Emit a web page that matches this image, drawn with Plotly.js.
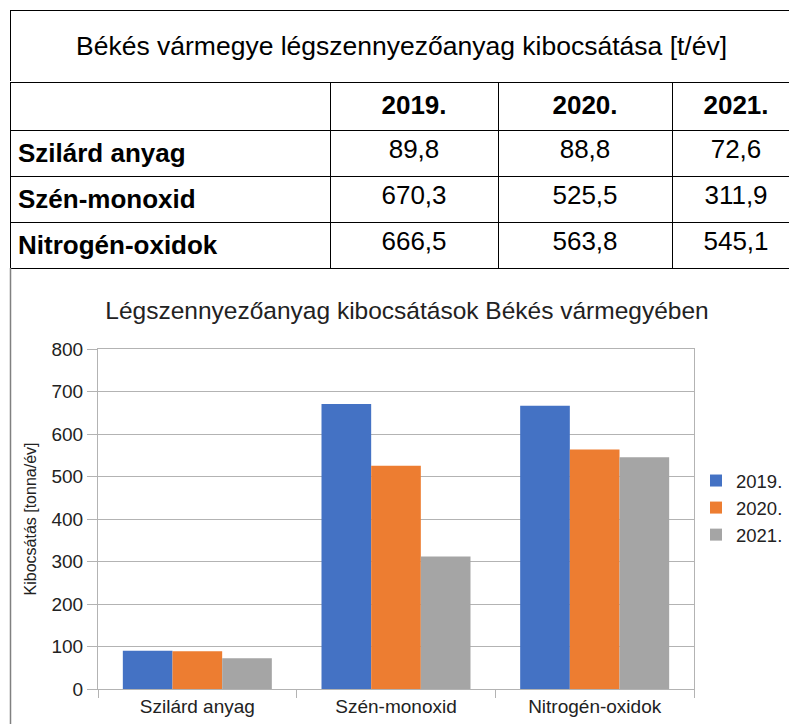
<!DOCTYPE html>
<html>
<head>
<meta charset="utf-8">
<script src="https://cdn.plot.ly/plotly-3.0.1.min.js"></script>
<style>html,body{margin:0;padding:0;background:#fff;overflow:hidden;}#chart{width:800px;height:724px;}</style>
</head>
<body>
<div id="chart"></div>
<script>
var tableTitle = 'Békés vármegye légszennyezőanyag kibocsátása [t/év]';
var chartTitle = 'Légszennyezőanyag kibocsátások Békés vármegyében';
var yAxisTitle = 'Kibocsátás [tonna/év]';
var categories = ['Szilárd anyag', 'Szén-monoxid', 'Nitrogén-oxidok'];
var years = ['2019.', '2020.', '2021.'];
var v2019 = [89.8, 670.3, 666.5];
var v2020 = [88.8, 525.5, 563.8];
var v2021 = [72.6, 311.9, 545.1];
var yTicks = [0, 100, 200, 300, 400, 500, 600, 700, 800];

// figure is slightly wider than the 789px window so the table's right border falls outside it
var W = 800, H = 724;
function px(x) { return x / W; }
function py(y) { return 1 - y / H; }
function fmt(v) { return v.toFixed(1).replace('.', ','); }

var FONT = 'Liberation Sans, Arial, sans-serif';
var colors = ['#4472C4', '#ED7D31', '#A5A5A5'];
var series = [v2019, v2020, v2021];

var traces = [];

// table title row (merged cell)
traces.push({
  type: 'table',
  domain: {x: [px(10), 1], y: [py(82), py(10)]},
  columnwidth: [1],
  header: {
    values: [''],
    height: 72,
    line: {color: '#000', width: 1},
    fill: {color: '#fff'},
    font: {family: FONT, size: 26, color: '#000'}
  },
  cells: {values: [[]], height: 0, line: {color: '#000', width: 1}, fill: {color: '#fff'}},
  hoverinfo: 'skip'
});

// data table
traces.push({
  type: 'table',
  domain: {x: [px(10), 1], y: [py(269), py(82)]},
  columnwidth: [320, 168, 174, 128],
  header: {
    values: [''].concat(years).map(function (s) { return '<b>' + s + '</b>'; }),
    height: 48,
    align: 'center',
    line: {color: '#000', width: 1},
    fill: {color: '#fff'},
    font: {family: FONT, size: 26, color: '#000'}
  },
  cells: {
    values: [categories.map(function (s) { return '<b>' + s + '</b>'; }),
             categories.map(function (c, i) { return fmt(v2019[i]); }),
             categories.map(function (c, i) { return fmt(v2020[i]); }),
             categories.map(function (c, i) { return fmt(v2021[i]); })],
    height: 46,
    align: ['left', 'center', 'center', 'center'],
    line: {color: '#000', width: 1},
    fill: {color: '#fff'},
    font: {family: FONT, size: 26, color: '#000'}
  }
});

for (var s = 0; s < 3; s++) {
  traces.push({
    type: 'bar',
    name: years[s],
    x: categories,
    y: series[s],
    marker: {color: colors[s]},
    legendgroup: 'g' + s,
    hoverinfo: 'x+y+name'
  });
}

var layout = {
  width: W, height: H,
  margin: {l: 0, r: 0, t: 0, b: 0},
  paper_bgcolor: '#fff',
  plot_bgcolor: '#fff',
  font: {family: FONT, color: '#222'},
  title: {
    text: chartTitle,
    font: {family: FONT, size: 24.5, color: '#222'},
    x: px(407), xanchor: 'center', xref: 'paper',
    y: py(310), yanchor: 'middle', yref: 'paper'
  },
  annotations: [{
    text: tableTitle,
    xref: 'paper', yref: 'paper',
    x: px(402), y: py(46), xanchor: 'center', yanchor: 'middle',
    showarrow: false,
    font: {family: FONT, size: 26.5, color: '#000'}
  }],
  barmode: 'group',
  bargap: 0.25,
  bargroupgap: 0,
  xaxis: {
    domain: [px(98), px(694)],
    type: 'category',
    tickson: 'boundaries',
    ticks: 'outside',
    ticklen: 8,
    tickcolor: '#b3b3b3',
    showline: true,
    linecolor: '#b3b3b3',
    mirror: true,
    showgrid: false,
    tickfont: {family: FONT, size: 19, color: '#222'},
    fixedrange: true
  },
  yaxis: {
    domain: [py(689), py(349)],
    range: [0, 800],
    tickvals: yTicks,
    ticks: 'outside',
    ticklen: 10,
    tickcolor: '#b3b3b3',
    showline: true,
    linecolor: '#b3b3b3',
    mirror: true,
    showgrid: true,
    gridcolor: '#b3b3b3',
    zeroline: false,
    tickfont: {family: FONT, size: 19, color: '#222'},
    title: {text: yAxisTitle, font: {family: FONT, size: 16, color: '#222'}, standoff: 10},
    fixedrange: true
  },
  showlegend: true,
  legend: {
    x: px(696), xanchor: 'left',
    y: py(508), yanchor: 'middle',
    traceorder: 'grouped',
    tracegroupgap: 0,
    font: {family: FONT, size: 18.5, color: '#222'},
    bgcolor: 'rgba(0,0,0,0)'
  },
  shapes: [
    {type: 'line', xref: 'paper', yref: 'paper', x0: px(10.5), x1: px(10.5), y0: py(268), y1: 0,
     line: {color: '#808080', width: 1.5}}
  ]
};

Plotly.newPlot('chart', traces, layout, {displayModeBar: false, responsive: false});
</script>
</body>
</html>
